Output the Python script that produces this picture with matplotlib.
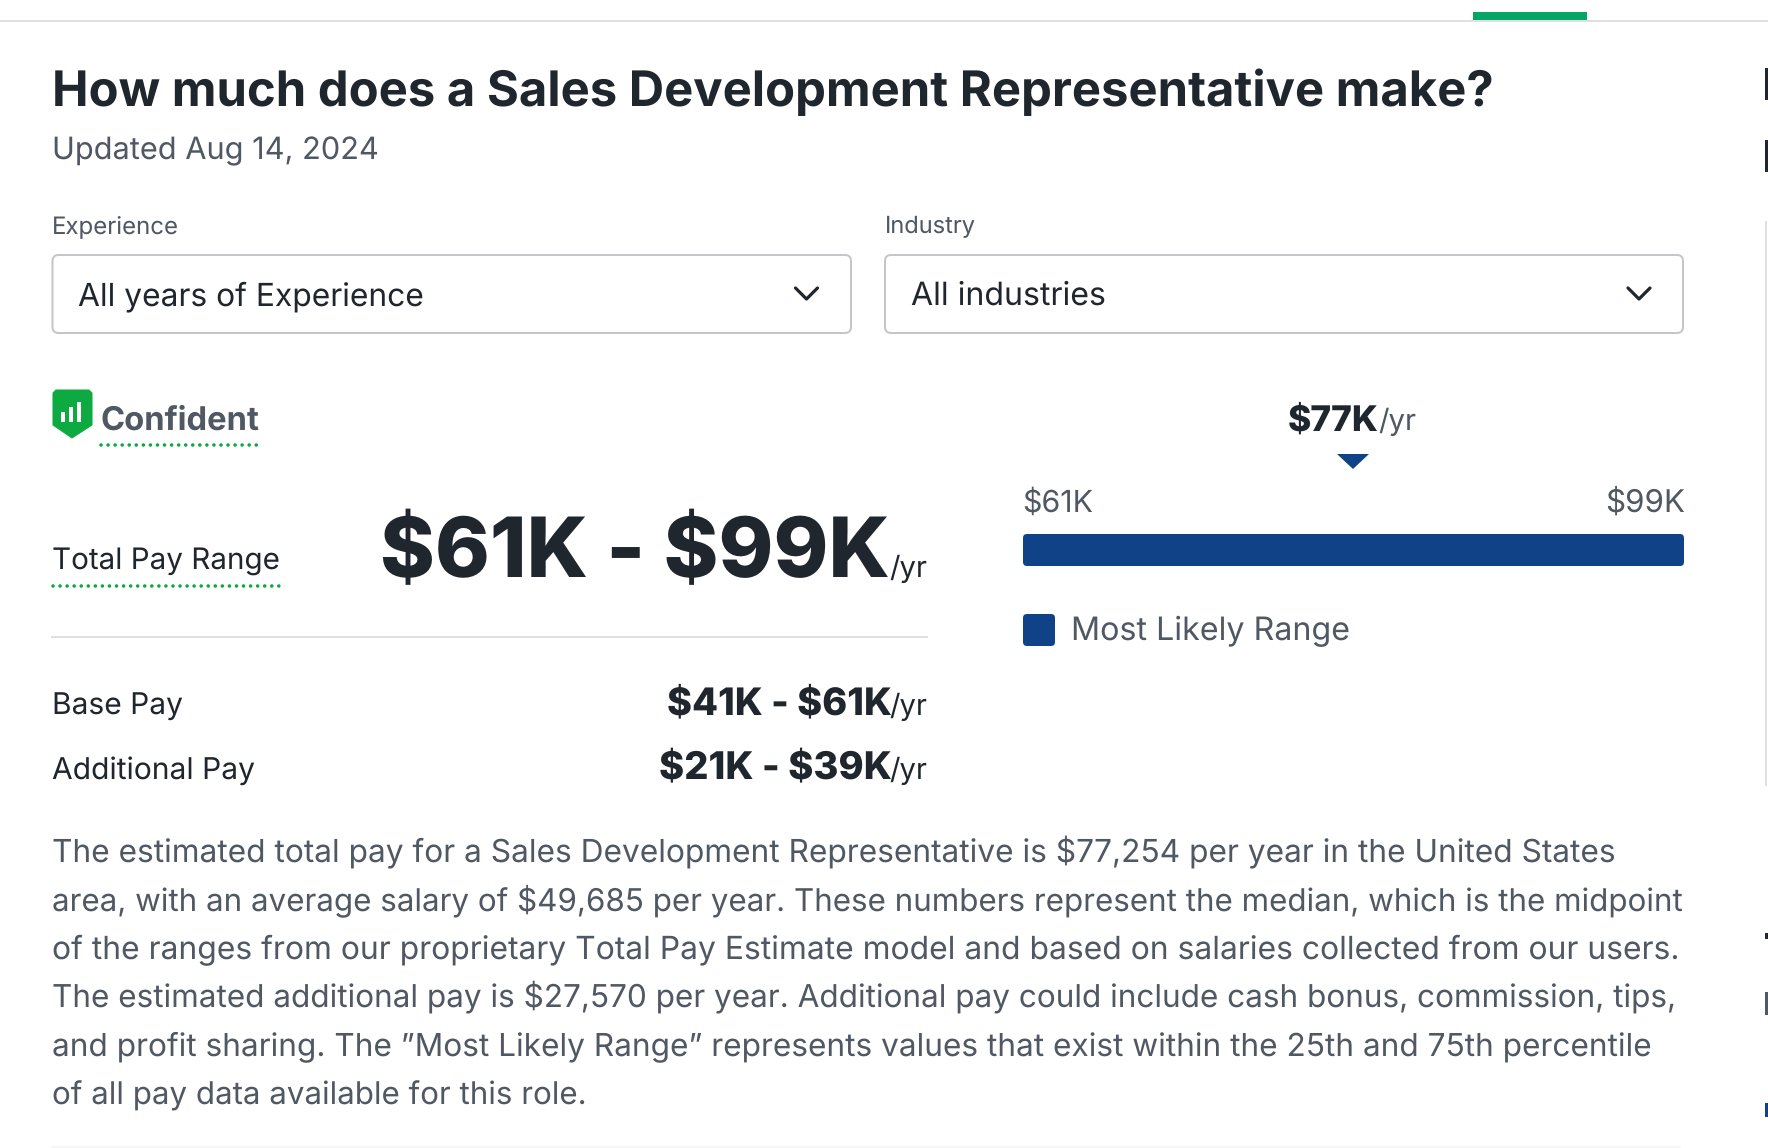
import matplotlib
matplotlib.use('Agg')
import matplotlib.pyplot as plt
from matplotlib.patches import FancyBboxPatch, Polygon, Rectangle

W, H = 1768, 1148

TITLE = 'How much does a Sales Development Representative make?'
UPDATED = 'Updated Aug 14, 2024'
FILTER_LABELS = ['Experience', 'Industry']
FILTER_VALUES = ['All years of Experience', 'All industries']
PAY_LABELS = ['Base Pay', 'Additional Pay']
PAY_RANGES = ['$41K - $61K', '$21K - $39K']
TOTAL_RANGE = '$61K - $99K'
RANGE_LOW = 61
RANGE_HIGH = 99
MEDIAN_LABEL = '$77K'
BODY = [
    'The estimated total pay for a Sales Development Representative is $77,254 per year in the United States',
    'area, with an average salary of $49,685 per year. These numbers represent the median, which is the midpoint',
    'of the ranges from our proprietary Total Pay Estimate model and based on salaries collected from our users.',
    'The estimated additional pay is $27,570 per year. Additional pay could include cash bonus, commission, tips,',
    'and profit sharing. The \u201dMost Likely Range\u201d represents values that exist within the 25th and 75th percentile',
    'of all pay data available for this role.',
]

DARK = '#20262e'
GREY = '#505863'
BLUE = '#0f4287'
GREEN = '#0caa41'

plt.rcParams['font.family'] = ['Inter', 'DejaVu Sans']
plt.rcParams['text.parse_math'] = False
plt.rcParams['text.hinting'] = 'no_hinting'
plt.rcParams['text.hinting_factor'] = 1

fig = plt.figure(figsize=(W / 100, H / 100), dpi=100, facecolor='white')
ax = fig.add_axes([0, 0, 1, 1])
ax.set_xlim(0, W)
ax.set_ylim(H, 0)
ax.axis('off')
renderer = fig.canvas.get_renderer()


def px(p):
    return p * 0.72


def label(x, y, s, size, color=DARK, weight='normal', ha='left', width=None):
    t = ax.text(x, y, s, fontsize=size, color=color, fontweight=weight, ha=ha, va='baseline')
    # the web font runs a little wider or narrower per string, so fit to the measured width
    if width:
        t.set_fontsize(size * width / t.get_window_extent(renderer).width)
    return t


def dotted(x0, x1, y):
    ax.plot([x0, x1], [y, y], color=GREEN, lw=px(3.6), linestyle=(0, (0.01, 1.95)),
            dash_capstyle='round')


# top tab strip
ax.plot([0, W], [21, 21], color='#e0e0e0', lw=px(2))
ax.add_patch(Rectangle((1473, 12), 114, 8, color='#04a565', lw=0))

# header
label(52, 106, TITLE, 36, weight='bold', width=1442)
label(52, 159, UPDATED, 23, color=GREY, width=327)

# dropdowns
label_widths = [127, 91]
value_widths = [346, 195]
for i, x in enumerate([52.5, 885]):
    ax.add_patch(FancyBboxPatch((x + 5, 260), 788.5 - i * 0.5, 68,
                                boxstyle='round,pad=5,rounding_size=6',
                                fc='white', ec='#c4c6cc', lw=px(2)))
    label(x - 0.5, 233.5, FILTER_LABELS[i], 17, color=GREY, width=label_widths[i])
    label(x + 26, 305, FILTER_VALUES[i], 24, width=value_widths[i])
    cx = x + 743
    ax.plot([cx, cx + 11, cx + 22], [288, 299, 288], color=DARK, lw=px(3.2),
            solid_capstyle='round', solid_joinstyle='round')

# confidence badge
ax.add_patch(Polygon([(53, 393), (56, 390), (89, 390), (92, 393), (92, 425), (72, 438), (53, 425)],
                     closed=True, fc=GREEN, ec=GREEN, lw=px(1), joinstyle='round'))
for bx, top in zip([61, 69, 77], [412, 407, 402]):
    ax.add_patch(Rectangle((bx, top), 3.5, 422 - top, fc='white', lw=0))
label(100, 430, 'Confident', 24.5, color=GREY, weight='bold', width=159)
dotted(101, 260, 445)

# total pay
label(52, 569, 'Total Pay Range', 22.5, width=228)
dotted(53, 279, 586)
label(890, 577, TOTAL_RANGE, 66, weight=800, ha='right', width=510)
label(927, 577, '/yr', 21, ha='right')
ax.plot([52, 927], [637, 637], color='#dee0e3', lw=px(2))

# base and additional
for y, name, rng, nw, rw in zip([715, 779], PAY_LABELS, PAY_RANGES, [131, 203], [225, 233]):
    label(52, y, name, 22.5, width=nw)
    label(892, y - 1, rng, 30, weight=800, ha='right', width=rw)
    label(927, y, '/yr', 21, ha='right')

# range bar, x axis in $K
bar_ax = fig.add_axes([1023 / W, 1 - 566 / H, 661 / W, 32 / H])
bar_ax.set_xlim(RANGE_LOW, RANGE_HIGH)
bar_ax.set_ylim(0, 1)
bar_ax.axis('off')
k_px = 661 / (RANGE_HIGH - RANGE_LOW)
r = 4 / k_px
bar_ax.add_patch(FancyBboxPatch((RANGE_LOW + r, 4 / 32), RANGE_HIGH - RANGE_LOW - 2 * r, 24 / 32,
                                boxstyle=f'round,pad={r},rounding_size={r}',
                                mutation_aspect=k_px / 32, fc=BLUE, lw=0, clip_on=False))

label(1022, 512, f'${RANGE_LOW}K', 22.5, color=GREY, width=71)
label(1685, 512, f'${RANGE_HIGH}K', 22.5, color=GREY, ha='right', width=80)
label(1379, 431, MEDIAN_LABEL, 27, weight=800, ha='right', width=91)
label(1416, 430, '/yr', 23, color=GREY, ha='right', width=38)
ax.add_patch(Polygon([(1337, 454), (1369, 454), (1353, 469)], closed=True, fc=BLUE, lw=0))

ax.add_patch(FancyBboxPatch((1027, 618), 24, 24, boxstyle='round,pad=4,rounding_size=4', fc=BLUE, lw=0))
label(1071, 640, 'Most Likely Range', 23, color=GREY, width=279)

# description
body_widths = [1564, 1631, 1628, 1625, 1600, 535]
for y, line, bw in zip([862, 910, 959, 1006.5, 1055, 1104], BODY, body_widths):
    label(52, y, line, 22.5, color=GREY, width=bw)

ax.plot([52, 1680], [1147, 1147], color='#f6f6f6', lw=px(2))

# clipped neighbouring column at the right edge
for top, bottom, col in [(68, 100, DARK), (140, 172, DARK), (933, 939, DARK),
                         (992, 1015, GREY), (1103, 1117, BLUE)]:
    ax.add_patch(Rectangle((1765, top), 3, bottom - top, fc=col, lw=0))
ax.plot([1766, 1766], [222, 785], color='#e0e0e0', lw=px(2))

fig.savefig('out.png', dpi=100)
